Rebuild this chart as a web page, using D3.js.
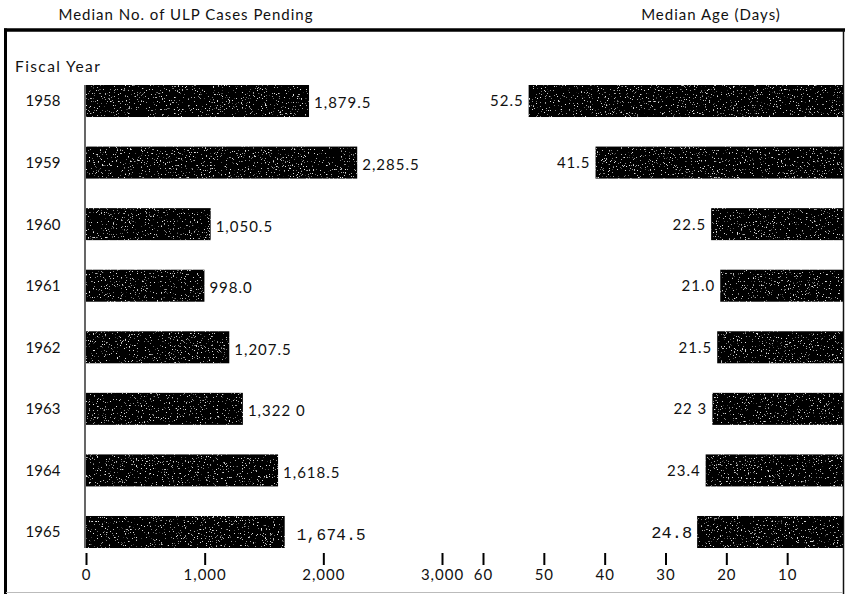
<!DOCTYPE html>
<html>
<head>
<meta charset="utf-8">
<script src="https://cdn.jsdelivr.net/npm/d3@7/dist/d3.min.js"></script>
<style>
  html, body { margin: 0; padding: 0; background: #fff; }
  svg { display: block; }
  text { font-family: Lato, "Open Sans", sans-serif; fill: #111; }
  .mono { font-family: "Liberation Mono", "DejaVu Sans Mono", monospace; }
</style>
</head>
<body>
<div id="chart"></div>
<script>
// ---- data ----
const years = ["1958", "1959", "1960", "1961", "1962", "1963", "1964", "1965"];
const casesPending = [1879.5, 2285.5, 1050.5, 998.0, 1207.5, 1322.0, 1618.5, 1674.5];
const casesLabels = ["1,879.5", "2,285.5", "1,050.5", "998.0", "1,207.5", "1,322 0", "1,618.5", "1,674.5"];
const medianAge = [52.5, 41.5, 22.5, 21.0, 21.5, 22.3, 23.4, 24.8];
const ageLabels = ["52.5", "41.5", "22.5", "21.0", "21.5", "22 3", "23.4", "24.8"];
const monoLabels = ["1,674.5", "24.8"];
const casesTicks = [0, 1000, 2000, 3000];
const ageTicks = [60, 50, 40, 30, 20, 10];

const W = 845, H = 594;
const svg = d3.select("#chart").append("svg").attr("width", W).attr("height", H);

// speckle texture filter
const defs = svg.append("defs");
const f = defs.append("filter").attr("id", "speck")
  .attr("x", 0).attr("y", 0).attr("width", 1).attr("height", 1);
f.append("feTurbulence").attr("type", "fractalNoise").attr("baseFrequency", 0.75)
  .attr("numOctaves", 2).attr("seed", 7).attr("result", "n");
f.append("feColorMatrix").attr("in", "n").attr("type", "matrix")
  .attr("values", "0 0 0 0 0.8  0 0 0 0 0.8  0 0 0 0 0.8  10 0 0 0 -6.6").attr("result", "w");
f.append("feComposite").attr("in", "w").attr("in2", "SourceGraphic").attr("operator", "in").attr("result", "ws");
const fm = f.append("feMerge");
fm.append("feMergeNode").attr("in", "SourceGraphic");
fm.append("feMergeNode").attr("in", "ws");

// scales
const y = d3.scaleBand().domain(years).range([85, 548]).paddingInner(0.48).paddingOuter(0);
const xL = d3.scaleLinear().domain([0, 3000]).range([86, 442]);
const xR = d3.scaleLinear().domain([0, 60]).range([848, 483]);

// frame
svg.append("line").attr("x1", 4).attr("x2", 845).attr("y1", 30).attr("y2", 30)
  .attr("stroke", "#000").attr("stroke-width", 3.5);
svg.append("line").attr("x1", 5.5).attr("x2", 5.5).attr("y1", 28.5).attr("y2", 594)
  .attr("stroke", "#000").attr("stroke-width", 3);
svg.append("line").attr("x1", 843.5).attr("x2", 843.5).attr("y1", 30).attr("y2", 594)
  .attr("stroke", "#111").attr("stroke-width", 1.5);
svg.append("line").attr("x1", 6).attr("x2", 843).attr("y1", 592.5).attr("y2", 592.5)
  .attr("stroke", "#bbb").attr("stroke-width", 1);

// titles
svg.append("text").attr("x", 186).attr("y", 20).attr("text-anchor", "middle")
  .attr("font-size", 15).attr("letter-spacing", 1).text("Median No. of ULP Cases Pending");
svg.append("text").attr("x", 711).attr("y", 20).attr("text-anchor", "middle")
  .attr("font-size", 15).attr("letter-spacing", 1).text("Median Age (Days)");
svg.append("text").attr("x", 15).attr("y", 72).attr("font-size", 15.5)
  .attr("letter-spacing", 1.4).text("Fiscal Year");

// year labels
svg.append("g").selectAll("text").data(years).join("text")
  .attr("x", 43).attr("y", d => y(d) + y.bandwidth() / 2).attr("dy", "0.36em")
  .attr("text-anchor", "middle").attr("font-size", 15).text(d => d);

// left baseline
svg.append("line").attr("x1", xL(0) - 1).attr("x2", xL(0) - 1)
  .attr("y1", y(years[0])).attr("y2", y(years[years.length - 1]) + y.bandwidth())
  .attr("stroke", "#000").attr("stroke-width", 1.2);

const isMono = s => monoLabels.includes(s);

// left bars
svg.append("g").selectAll("rect").data(years).join("rect")
  .attr("x", xL(0)).attr("y", d => y(d))
  .attr("width", (d, i) => xL(casesPending[i]) - xL(0))
  .attr("height", y.bandwidth())
  .attr("fill", "#050505").attr("filter", "url(#speck)");

svg.append("g").selectAll("text").data(years).join("text")
  .attr("class", (d, i) => isMono(casesLabels[i]) ? "mono" : null)
  .attr("x", (d, i) => xL(casesPending[i]) + (isMono(casesLabels[i]) ? 12 : 5))
  .attr("y", d => y(d) + y.bandwidth() / 2 + 2).attr("dy", "0.36em")
  .attr("font-size", (d, i) => isMono(casesLabels[i]) ? 16 : 15)
  .attr("letter-spacing", (d, i) => isMono(casesLabels[i]) ? 0.3 : 1)
  .text((d, i) => casesLabels[i]);

// right bars
svg.append("g").selectAll("rect").data(years).join("rect")
  .attr("x", (d, i) => xR(medianAge[i])).attr("y", d => y(d))
  .attr("width", (d, i) => 843 - xR(medianAge[i]))
  .attr("height", y.bandwidth())
  .attr("fill", "#050505").attr("filter", "url(#speck)");

svg.append("g").selectAll("text").data(years).join("text")
  .attr("class", (d, i) => isMono(ageLabels[i]) ? "mono" : null)
  .attr("x", (d, i) => xR(medianAge[i]) - 5)
  .attr("y", d => y(d) + y.bandwidth() / 2).attr("dy", "0.36em")
  .attr("text-anchor", "end")
  .attr("font-size", (d, i) => isMono(ageLabels[i]) ? 17 : 15)
  .attr("letter-spacing", (d, i) => isMono(ageLabels[i]) ? 0 : 1)
  .text((d, i) => ageLabels[i]);

// axes (tick marks + labels)
const axisL = d3.axisBottom(xL).tickValues(casesTicks).tickSize(0).tickPadding(0)
  .tickFormat(d3.format(","));
const axisR = d3.axisBottom(xR).tickValues(ageTicks).tickSize(0).tickPadding(0)
  .tickFormat(d3.format("d"));

function styleAxis(g) {
  g.select(".domain").remove();
  g.selectAll(".tick line").attr("y1", 553).attr("y2", 565)
    .attr("stroke", "#000").attr("stroke-width", 2);
  g.selectAll(".tick text").attr("y", 580).attr("dy", null)
    .attr("font-size", 15).attr("letter-spacing", 1)
    .attr("font-family", "Lato, 'Open Sans', sans-serif").attr("fill", "#111");
}
svg.append("g").call(axisL).call(styleAxis);
svg.append("g").call(axisR).call(styleAxis);
</script>
</body>
</html>
